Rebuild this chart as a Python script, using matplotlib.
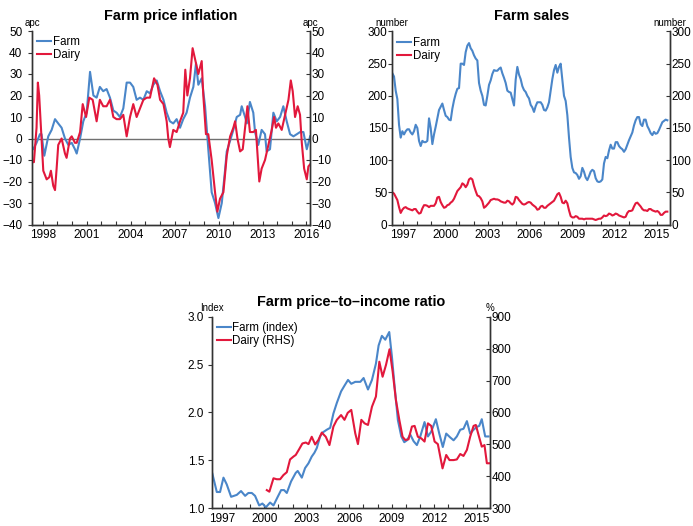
import numpy as np
import matplotlib
matplotlib.use("Agg")
import matplotlib.pyplot as plt

plt.rcParams['font.family'] = ['Liberation Sans', 'DejaVu Sans']
plt.rcParams['axes.unicode_minus'] = True

BLUE = '#4A86C9'
RED = '#E2183C'

# ---------------- Farm price inflation (apc) ----------------
fpi_farm_years = [1997.24, 1997.35, 1997.58, 1997.81, 1997.92, 1998.11, 1998.38, 1998.61, 1998.84, 1999.06,
                  1999.29, 1999.52, 1999.75, 1999.98, 2000.20, 2000.32, 2000.55, 2000.77, 2001.00, 2001.23,
                  2001.46, 2001.68, 2001.90, 2002.13, 2002.36, 2002.59, 2002.82, 2003.04, 2003.27, 2003.50,
                  2003.73, 2003.96, 2004.18, 2004.41, 2004.64, 2004.87, 2005.10, 2005.32, 2005.55, 2005.78,
                  2006.01, 2006.24, 2006.46, 2006.68, 2006.91, 2007.14, 2007.37, 2007.59, 2007.82, 2008.05,
                  2008.28, 2008.46, 2008.62, 2008.85, 2009.08, 2009.30, 2009.53, 2009.76, 2009.99, 2010.22,
                  2010.44, 2010.56, 2010.79, 2011.01, 2011.24, 2011.47, 2011.58, 2011.81, 2011.93, 2012.14,
                  2012.37, 2012.49, 2012.71, 2012.94, 2013.17, 2013.28, 2013.51, 2013.74, 2013.97, 2014.20,
                  2014.42, 2014.65, 2014.88, 2015.11, 2015.34, 2015.56, 2015.79, 2016.02, 2016.25]
fpi_farm = [-4, -5, -2, 2, 2, -8, 1, 4, 9, 7,
            5, 0, -3, -2, -5, -7, 0, 8, 12, 31,
            20, 19, 24, 22, 23, 19, 13, 12, 10, 14,
            26, 26, 24, 18, 19, 18, 22, 21, 25, 27,
            22, 18, 12, 8, 7, 9, 5, 9, 12, 19,
            24, 35, 25, 28, 15, -5, -25, -30, -37, -30,
            -15, -6, -1, 4, 10, 11, 15, 10, 7, 17,
            12, 3, -3, 4, 2, -6, -5, 12, 8, 10,
            15, 8, 2, 1, 2, 3, 3, -5, 1]

fpi_dairy_years = [1997.24, 1997.40, 1997.58, 1997.67, 1997.76, 1997.92, 1998.04, 1998.27, 1998.45, 1998.56,
                   1998.72, 1998.84, 1998.95, 1999.06, 1999.29, 1999.52, 1999.63, 1999.86, 1999.98, 2000.20,
                   2000.32, 2000.55, 2000.73, 2000.96, 2001.18, 2001.41, 2001.68, 2001.90, 2002.13, 2002.36,
                   2002.59, 2002.82, 2003.04, 2003.27, 2003.50, 2003.73, 2003.96, 2004.18, 2004.41, 2004.64,
                   2004.87, 2005.10, 2005.32, 2005.60, 2005.83, 2006.01, 2006.24, 2006.46, 2006.57, 2006.68,
                   2006.91, 2007.14, 2007.37, 2007.59, 2007.73, 2007.87, 2008.05, 2008.23, 2008.46, 2008.62,
                   2008.85, 2008.96, 2009.14, 2009.30, 2009.53, 2009.76, 2009.92, 2010.10, 2010.33, 2010.56,
                   2010.79, 2011.01, 2011.13, 2011.29, 2011.47, 2011.65, 2011.81, 2011.97, 2012.14, 2012.37,
                   2012.55, 2012.78, 2012.94, 2013.17, 2013.40, 2013.63, 2013.79, 2013.92, 2014.08, 2014.31,
                   2014.54, 2014.77, 2014.93, 2015.06, 2015.22, 2015.40, 2015.56, 2015.68, 2015.84, 2016.02,
                   2016.13, 2016.25]
fpi_dairy = [-11, -11, 5, 26, 20, 0, -15, -19, -18, -15,
             -22, -24, -14, -3, 0, -7, -9, 0, 1, -2,
             -2, 3, 16, 10, 19, 18, 8, 18, 15, 15,
             18, 10, 9, 9, 11, 1, 10, 16, 10, 14,
             18, 19, 19, 28, 25, 18, 16, 8, 0, -4,
             4, 3, 8, 12, 32, 20, 28, 42, 35, 30,
             36, 20, 2, 2, -10, -25, -34, -28, -25, -8,
             1, 5, 8, 0, -6, -5, 5, 15, 3, 3,
             4, -20, -14, -10, -3, 4, 10, 5, 7, 4,
             11, 18, 27, 22, 10, 15, 11, -2, -14, -19,
             -13, -12]
fpi_xlabels = ['1998', '2001', '2004', '2007', '2010', '2013', '2016']

# ---------------- Farm sales (number) ----------------
sales_start = 1996.244
sales_step = 0.1181
farm_sales = [235, 230, 208, 195, 155, 135, 145, 140, 145, 148,
              148, 143, 140, 145, 155, 150, 130, 122, 130, 128,
              128, 130, 165, 150, 125, 140, 152, 165, 178, 183,
              188, 178, 169, 167, 163, 162, 180, 193, 203, 211,
              212, 250, 250, 248, 268, 278, 282, 274, 270, 263,
              258, 255, 220, 208, 200, 186, 185, 200, 217, 224,
              234, 240, 239, 239, 242, 244, 235, 228, 220, 208,
              206, 205, 195, 185, 225, 245, 233, 226, 215, 209,
              206, 200, 196, 186, 182, 175, 184, 190, 190, 190,
              186, 178, 177, 182, 190, 208, 226, 240, 248, 236,
              245, 250, 225, 200, 192, 170, 135, 105, 88, 81,
              80, 77, 71, 75, 88, 82, 73, 69, 75, 82,
              85, 83, 72, 67, 66, 67, 70, 95, 105, 103,
              115, 124, 118, 118, 128, 128, 122, 119, 117, 113,
              117, 124, 131, 137, 143, 154, 162, 167, 167, 156,
              153, 163, 163, 153, 148, 142, 139, 144, 141, 142,
              147, 153, 159, 161, 163, 162]
dairy_sales = [50, 48, 43, 38, 27, 18, 23, 26, 27, 25,
               24, 23, 22, 24, 24, 20, 17, 18, 25, 30,
               30, 29, 27, 29, 29, 29, 33, 42, 43, 35,
               30, 26, 27, 30, 31, 34, 36, 40, 46, 52,
               55, 58, 64, 62, 58, 62, 70, 72, 70, 60,
               52, 45, 44, 41, 36, 26, 28, 31, 34, 38,
               39, 40, 39, 39, 38, 36, 35, 34, 34, 37,
               36, 33, 31, 34, 43, 42, 38, 35, 32, 31,
               32, 34, 35, 34, 31, 29, 27, 23, 24, 28,
               29, 26, 26, 29, 31, 33, 35, 37, 42, 47,
               49, 43, 34, 33, 37, 33, 22, 13, 11, 11,
               13, 12, 9, 9, 9, 8, 9, 9, 9, 9,
               9, 8, 7, 8, 9, 9, 11, 14, 13, 14,
               17, 16, 14, 15, 17, 16, 14, 13, 12, 11,
               12, 18, 21, 21, 22, 28, 33, 34, 31, 28,
               24, 22, 22, 21, 24, 24, 22, 21, 20, 21,
               19, 15, 15, 18, 20, 20]
sales_xlabels = ['1997', '2000', '2003', '2006', '2009', '2012', '2015']

# ---------------- Farm price-to-income ratio ----------------
pti_farm_years = [1996.34, 1996.65, 1996.88, 1997.12, 1997.35, 1997.66, 1998.06, 1998.36, 1998.65, 1998.88,
                  1999.12, 1999.35, 1999.64, 1999.87, 2000.11, 2000.41, 2000.65, 2000.95, 2001.19, 2001.40,
                  2001.59, 2001.89, 2002.22, 2002.36, 2002.65, 2002.88, 2003.12, 2003.35, 2003.54, 2003.71,
                  2003.94, 2004.11, 2004.41, 2004.65, 2004.88, 2005.12, 2005.42, 2005.66, 2005.91, 2006.14,
                  2006.42, 2006.78, 2007.01, 2007.32, 2007.60, 2007.88, 2008.07, 2008.30, 2008.54, 2008.82,
                  2009.01, 2009.20, 2009.43, 2009.67, 2009.88, 2010.07, 2010.30, 2010.54, 2010.77, 2011.01,
                  2011.31, 2011.55, 2011.78, 2012.11, 2012.35, 2012.60, 2012.84, 2013.12, 2013.36, 2013.59,
                  2013.83, 2014.06, 2014.30, 2014.53, 2014.77, 2015.00, 2015.17, 2015.35, 2015.59, 2015.82]
pti_farm = [1.36, 1.17, 1.17, 1.32, 1.25, 1.12, 1.14, 1.18, 1.13, 1.16,
            1.16, 1.13, 1.03, 1.05, 1.01, 1.06, 1.03, 1.12, 1.19, 1.19,
            1.16, 1.28, 1.37, 1.39, 1.32, 1.42, 1.47, 1.54, 1.58, 1.63,
            1.75, 1.79, 1.82, 1.84, 1.99, 2.10, 2.22, 2.28, 2.34, 2.30,
            2.32, 2.32, 2.36, 2.24, 2.34, 2.51, 2.70, 2.80, 2.76, 2.84,
            2.58, 2.27, 1.92, 1.75, 1.69, 1.71, 1.77, 1.70, 1.66, 1.75,
            1.90, 1.75, 1.80, 1.93, 1.78, 1.64, 1.78, 1.74, 1.71, 1.75,
            1.82, 1.83, 1.91, 1.78, 1.82, 1.85, 1.86, 1.93, 1.75, 1.75]

pti_dairy_years = [2000.18, 2000.36, 2000.65, 2000.88, 2001.12, 2001.35, 2001.59, 2001.82, 2002.06, 2002.22,
                   2002.46, 2002.69, 2002.93, 2003.12, 2003.35, 2003.59, 2003.82, 2004.06, 2004.34, 2004.60,
                   2004.88, 2005.12, 2005.42, 2005.66, 2005.89, 2006.14, 2006.42, 2006.61, 2006.85, 2007.08,
                   2007.32, 2007.60, 2007.88, 2008.12, 2008.35, 2008.59, 2008.84, 2009.06, 2009.29, 2009.53,
                   2009.76, 2009.95, 2010.18, 2010.42, 2010.61, 2010.84, 2011.08, 2011.31, 2011.55, 2011.78,
                   2012.02, 2012.25, 2012.58, 2012.84, 2013.07, 2013.36, 2013.59, 2013.83, 2014.06, 2014.30,
                   2014.53, 2014.77, 2014.93, 2015.12, 2015.35, 2015.54, 2015.71, 2015.87]
pti_dairy = [357, 352, 394, 391, 391, 404, 413, 453, 462, 467,
             485, 503, 506, 501, 524, 500, 514, 537, 524, 498,
             556, 577, 592, 577, 599, 608, 535, 501, 577, 566,
             561, 618, 650, 759, 712, 749, 798, 728, 639, 577,
             524, 514, 516, 556, 558, 524, 519, 509, 566, 558,
             509, 501, 425, 467, 451, 451, 453, 470, 464, 483,
             524, 558, 561, 530, 493, 498, 441, 441]
pti_xlabels = ['1997', '2000', '2003', '2006', '2009', '2012', '2015']

TICK_FS = 8.5
LEG_FS = 8.3
TITLE_FS = 10.4
UNIT_FS = 7
LW = 1.5
AXC = '#333333'


def style_axis(ax, xlim, labels, ylim, yticks, title, left_pad):
    ax.set_xlim(*xlim)
    ax.set_ylim(*ylim)
    yrs = list(range(int(np.ceil(xlim[0])), int(np.floor(xlim[1])) + 1))
    ax.set_xticks(yrs)
    ax.set_xticklabels([str(y) if str(y) in labels else '' for y in yrs])
    ax.set_yticks(yticks)
    ax.spines['top'].set_visible(False)
    for s in ('left', 'right', 'bottom'):
        ax.spines[s].set_color(AXC)
        ax.spines[s].set_linewidth(1.0)
    ax.tick_params(axis='x', direction='in', length=3, width=0.8, color=AXC,
                   labelsize=TICK_FS, pad=3.5)
    ax.tick_params(axis='y', which='both', left=True, right=False, direction='out',
                   length=3, width=0.8, color=AXC, labelsize=TICK_FS, pad=left_pad)
    ax.set_title(title, fontsize=TITLE_FS, fontweight='bold', pad=8)


def right_axis(ax, ylim, yticks):
    axr = ax.twinx()
    axr.set_ylim(*ylim)
    axr.set_yticks(yticks)
    axr.spines['top'].set_visible(False)
    for s in ('left', 'right', 'bottom'):
        axr.spines[s].set_color(AXC)
        axr.spines[s].set_linewidth(1.0)
    axr.tick_params(axis='y', direction='in', length=3, width=0.8, color=AXC,
                    labelsize=TICK_FS, pad=1)
    return axr


def unit_label(ax, text, side):
    x = 0 if side == 'left' else 1
    ax.annotate(text, xy=(x, 1), xycoords='axes fraction', xytext=(0, 6),
                textcoords='offset points', ha='center', va='center', fontsize=UNIT_FS)


def legend(ax, handles, labels):
    ax.legend(handles, labels, loc='upper left', bbox_to_anchor=(0.0, 1.0), frameon=False,
              fontsize=LEG_FS, handlelength=1.2, handletextpad=0.15, labelspacing=0.1,
              borderaxespad=0.3, borderpad=0.15)


fig = plt.figure(figsize=(6.93, 5.26), dpi=100)

# --- Top-left panel ---
ax1 = fig.add_axes([0.04618, 1 - 224.5 / 526, 0.40115, 193.5 / 526])
ax1.axhline(0, color='#707070', lw=1.0, zorder=1)
h1, = ax1.plot(fpi_farm_years, fpi_farm, color=BLUE, lw=LW, zorder=2)
h2, = ax1.plot(fpi_dairy_years, fpi_dairy, color=RED, lw=LW, zorder=3)
style_axis(ax1, (1997.27, 2016.24), fpi_xlabels, (-40, 50), list(range(-40, 51, 10)),
           'Farm price inflation', 4)
right_axis(ax1, (-40, 50), list(range(-40, 51, 10)))
unit_label(ax1, 'apc', 'left')
unit_label(ax1, 'apc', 'right')
legend(ax1, [h1, h2], ['Farm', 'Dairy'])

# --- Top-right panel ---
ax2 = fig.add_axes([0.56609, 1 - 224.5 / 526, 0.40072, 193 / 526])
sales_years = sales_start + sales_step * np.arange(len(farm_sales))
g1, = ax2.plot(sales_years, farm_sales, color=BLUE, lw=LW)
g2, = ax2.plot(sales_years, dairy_sales, color=RED, lw=LW)
style_axis(ax2, (1996.24, 2015.92), sales_xlabels, (0, 300), list(range(0, 301, 50)),
           'Farm sales', 0.5)
right_axis(ax2, (0, 300), list(range(0, 301, 50)))
unit_label(ax2, 'number', 'left')
unit_label(ax2, 'number', 'right')
legend(ax2, [g1, g2], ['Farm', 'Dairy'])

# --- Bottom panel ---
ax3 = fig.add_axes([0.30548, 0.03365, 0.40159, 0.36426])
k1, = ax3.plot(pti_farm_years, pti_farm, color=BLUE, lw=LW)
style_axis(ax3, (1996.29, 2015.93), pti_xlabels, (1.0, 3.0), [1.0, 1.5, 2.0, 2.5, 3.0],
           'Farm price\u2013to\u2013income ratio', 2.5)
ax3.yaxis.set_major_formatter(matplotlib.ticker.FormatStrFormatter('%.1f'))
ax3b = right_axis(ax3, (300, 900), list(range(300, 901, 100)))
k2, = ax3b.plot(pti_dairy_years, pti_dairy, color=RED, lw=LW)
unit_label(ax3, 'Index', 'left')
unit_label(ax3, '%', 'right')
legend(ax3b, [k1, k2], ['Farm (index)', 'Dairy (RHS)'])

fig.savefig('out.png', dpi=100)
